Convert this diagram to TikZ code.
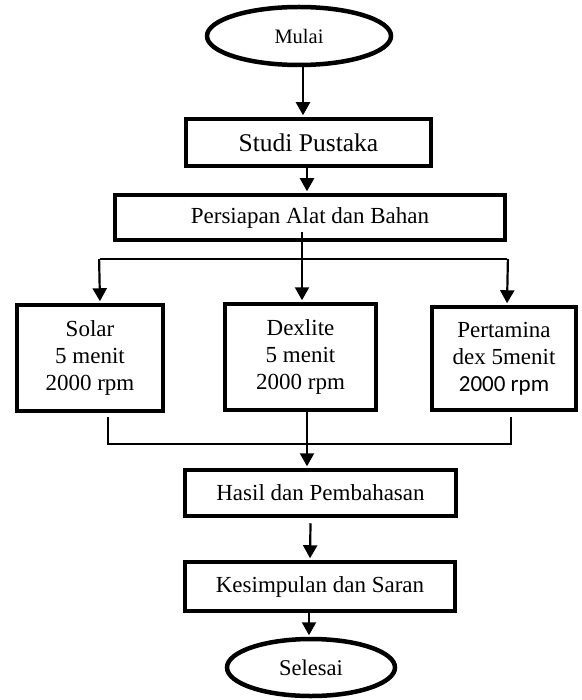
\documentclass[tikz,border=0pt]{standalone}
\usepackage{fontspec}
\setmainfont{Liberation Serif}
\newfontfamily\calfont{Carlito}
\usetikzlibrary{arrows.meta,shapes.geometric}
\begin{document}
\begin{tikzpicture}[x=1pt,y=-1pt,
  box/.style={draw,line width=4.5pt,rectangle,miter limit=4,inner sep=0pt,align=center,
    font=\fontsize{23}{27}\selectfont},
  oval/.style={draw,line width=4.5pt,ellipse,inner sep=0pt},
  arr/.style={line width=2.2pt,-{Triangle[width=14pt,length=13pt]},shorten >=1.5pt},
  conn/.style={line width=1.9pt}]
\useasboundingbox (0,0) rectangle (581,700);
\node[oval,minimum width=184pt,minimum height=58pt,font=\fontsize{20.5}{24}\selectfont] (mulai) at (299,36) {Mulai};
\node[box,minimum width=245pt,minimum height=47pt,font=\fontsize{25.5}{30}\selectfont] (studi) at (308.5,142.5) {Studi Pustaka};
\node[box,minimum width=390pt,minimum height=45pt] (persiapan) at (310,217.5) {Persiapan Alat dan Bahan};
\node[box,minimum width=146pt,minimum height=106pt] (solar) at (90,358) {Solar\\5 menit\\2000 rpm};
\node[box,minimum width=151pt,minimum height=106pt] (dexlite) at (300.5,357) {Dexlite\\5 menit\\2000 rpm};
\node[box,minimum width=144pt,minimum height=103pt] (pertamina) at (504,358.5) {Pertamina\\dex 5menit\\{\calfont 2000 rpm}};
\node[box,minimum width=271pt,minimum height=46pt] (hasil) at (320.5,493) {Hasil dan Pembahasan};
\node[box,minimum width=270pt,minimum height=49pt] (kesimpulan) at (320,586.5) {Kesimpulan dan Saran};
\node[oval,minimum width=168pt,minimum height=57pt,font=\fontsize{22.5}{27}\selectfont] (selesai) at (311,667.5) {Selesai};
% top arrows
\draw[arr] ([xshift=4pt]mulai.south) -- ([xshift=-5.5pt]studi.north);
\draw[arr] ([xshift=-1.5pt,yshift=4pt]studi.south) -- ([xshift=-3pt]persiapan.north);
\draw[arr] ([xshift=-8pt,yshift=10pt]persiapan.south) -- ([xshift=1.5pt]dexlite.north);
% branch
\coordinate (bl) at (100,259);
\coordinate (br) at (507,259);
\draw[conn] (bl) -- (br);
\draw[arr] ([xshift=-0.9pt]bl) -- (bl |- solar.north);
\draw[arr] ([xshift=0.9pt]br) -- (br |- pertamina.north);
% merge
\coordinate (ml) at (108,444);
\coordinate (mr) at (511,444);
\coordinate (mlt) at (108,417);
\coordinate (mrt) at (511,417);
\draw[conn] (mlt) -- (ml) -- (mr) -- (mrt);
\draw[arr] ([xshift=6.5pt]dexlite.south) -- ([xshift=-13.5pt]hasil.north);
\draw[arr] ([xshift=-10pt,yshift=-5pt]hasil.south) -- ([xshift=-10pt]kesimpulan.north);
\draw[arr] ([xshift=-11pt]kesimpulan.south) -- ([xshift=-2pt]selesai.north);
\end{tikzpicture}
\end{document}
